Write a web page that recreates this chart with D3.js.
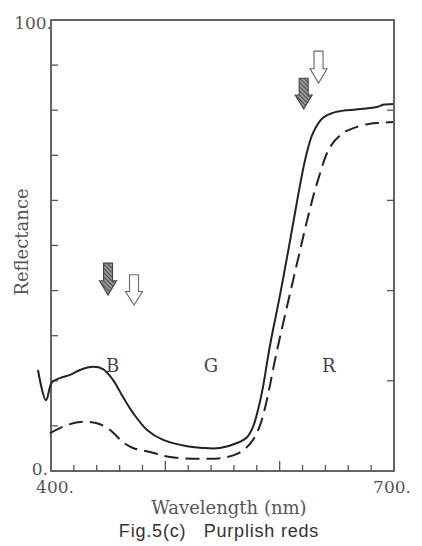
<!DOCTYPE html>
<html><head><meta charset="utf-8">
<script src="https://cdn.jsdelivr.net/npm/d3@7"></script>
<style>body{margin:0;background:#fff}svg{display:block}</style>
</head><body>
<svg id="c" width="422" height="546"></svg>
<script>
// wavelength (nm), reflectance (%)
const solidWl = [388.6,395.6,400.9,407.9,416.6,425.4,436.7,445.5,454.2,463.0,471.7,484.0,498.0,519.0,532.9,547.8,562.7,571.4,576.7,581.0,585.4,589.8,593.3,600.3,607.3,613.4,617.8,623.0,629.1,637.9,646.6,658.9,672.9,685.1,690.4,699.1];
const solidR  = [22.4,15.7,19.7,20.6,21.3,22.4,23.1,22.6,20.2,16.4,12.9,9.1,6.9,5.5,5.1,5.1,6.2,7.5,9.8,13.5,18.6,25.3,30.2,39.0,48.6,57.2,63.4,69.8,74.9,78.3,79.4,80.0,80.3,80.7,81.2,81.4];
const dashWl  = [399.1,414.0,428.0,440.2,451.6,463.0,471.7,486.6,504.1,532.9,550.4,562.7,570.5,576.7,581.9,586.3,590.7,595.0,600.3,608.2,616.9,625.6,633.5,644.0,655.4,667.6,679.0,687.7,699.1];
const dashR   = [8.4,10.2,10.9,10.6,9.1,6.4,5.1,4.2,3.1,2.7,2.9,3.8,5.1,6.9,9.5,13.1,18.0,23.5,29.7,38.4,47.9,57.2,64.5,71.8,74.9,76.3,77.0,77.2,77.4];
const xTicks = [420,440,460,480,500,520,540,560,580,600,620,640,660,680];
const xMajor = [500,600];
const yTicksLeft = [10,20,30,40,50,60,70,80,90];
const yTicksRight = [20,40,60,80];
const bandLabels = ["B","G","R"];
const bandWl = [454,540,643];
const bandR = [21.9,21.9,21.9];
// arrows: centre wavelength, top reflectance, bottom reflectance, type
const arrowWl = [449.9,472.6,634.0,621.0];
const arrowTop = [46.1,43.5,93.1,87.1];
const arrowBot = [39.0,36.8,86.0,80.3];
const arrowType = ["hatched","hollow","hollow","hatched"];

const svg = d3.select("#c");
const x = d3.scaleLinear().domain([400,700]).range([51,394]);
const y = d3.scaleLinear().domain([0,100]).range([471,20]);
const axisCol = "#555";

const defs = svg.append("defs");
const pat = defs.append("pattern").attr("id","hatch").attr("patternUnits","userSpaceOnUse")
  .attr("width",3).attr("height",3).attr("patternTransform","rotate(-45)");
pat.append("rect").attr("width",3).attr("height",3).attr("fill","#999");
pat.append("line").attr("x1",0).attr("y1",0).attr("x2",0).attr("y2",3).attr("stroke","#333").attr("stroke-width",1.6);

// frame
svg.append("rect").attr("x",x(400)).attr("y",y(100)).attr("width",x(700)-x(400)).attr("height",y(0)-y(100))
  .attr("fill","none").attr("stroke",axisCol).attr("stroke-width",1.8);

// ticks
svg.append("g").selectAll("line").data(xTicks).join("line")
  .attr("x1",d=>x(d)).attr("x2",d=>x(d)).attr("y1",y(0)).attr("y2",d=>y(0)-(xMajor.includes(d)?10:6))
  .attr("stroke",axisCol).attr("stroke-width",1.3);
svg.append("g").selectAll("line").data(yTicksLeft).join("line")
  .attr("x1",x(400)).attr("x2",x(400)+7).attr("y1",d=>y(d)).attr("y2",d=>y(d))
  .attr("stroke",axisCol).attr("stroke-width",1.3);
svg.append("g").selectAll("line").data(yTicksRight).join("line")
  .attr("x1",x(700)).attr("x2",x(700)-7).attr("y1",d=>y(d)).attr("y2",d=>y(d))
  .attr("stroke",axisCol).attr("stroke-width",1.3);

// tick labels
const serif = "'DejaVu Serif', 'Liberation Serif', serif";
const tl = svg.append("g").attr("font-family",serif).attr("fill","#555").attr("font-size",17);
tl.append("text").attr("x",x(400)+1).attr("y",y(100)+9).attr("text-anchor","end").text("100.");
tl.append("text").attr("x",x(400)-3).attr("y",y(0)+4).attr("text-anchor","end").text("0.");
tl.append("text").attr("x",x(400)+4).attr("y",y(0)+22).attr("text-anchor","middle").text("400.");
tl.append("text").attr("x",x(700)-2).attr("y",y(0)+22).attr("text-anchor","middle").text("700.");

// axis titles
svg.append("text").attr("x",229).attr("y",514).attr("text-anchor","middle")
  .attr("font-family",serif).attr("font-size",18).attr("fill","#555").text("Wavelength (nm)");
svg.append("text").attr("transform","translate(28,242) rotate(-90)").attr("text-anchor","middle")
  .attr("font-family",serif).attr("font-size",18).attr("fill","#555").text("Reflectance");
svg.append("text").attr("x",219).attr("y",537).attr("text-anchor","middle").attr("xml:space","preserve")
  .attr("font-family","'Liberation Sans', Arial, sans-serif").attr("font-size",18).attr("letter-spacing",0.8)
  .attr("fill","#333").text("Fig.5(c)   Purplish reds");

// band labels
svg.append("g").selectAll("text").data(bandLabels).join("text")
  .attr("x",(d,i)=>x(bandWl[i])).attr("y",(d,i)=>y(bandR[i])).attr("text-anchor","middle")
  .attr("font-family",serif).attr("font-size",18).attr("fill","#444").text(d=>d);

// curves
const line = d3.line().x(d=>x(d[0])).y(d=>y(d[1])).curve(d3.curveCatmullRom.alpha(0.5));
svg.append("path").datum(solidWl.map((w,i)=>[w,solidR[i]])).attr("d",line)
  .attr("fill","none").attr("stroke","#222").attr("stroke-width",2);
svg.append("path").datum(dashWl.map((w,i)=>[w,dashR[i]])).attr("d",line)
  .attr("fill","none").attr("stroke","#222").attr("stroke-width",2).attr("stroke-dasharray","14,7");

// arrows
arrowWl.forEach((w,i)=>{
  const cx = x(w), t = y(arrowTop[i]), b = y(arrowBot[i]);
  const h = b - t, sw = 4.5, hw = 8.5, hh = h*0.45;
  const p = `M${cx-sw},${t}L${cx+sw},${t}L${cx+sw},${b-hh}L${cx+hw},${b-hh}L${cx},${b}L${cx-hw},${b-hh}L${cx-sw},${b-hh}Z`;
  svg.append("path").attr("d",p)
    .attr("fill",arrowType[i]==="hatched"?"url(#hatch)":"#fff")
    .attr("stroke",arrowType[i]==="hatched"?"#444":"#666").attr("stroke-width",1.1).attr("stroke-linejoin","miter");
});
</script>
</body></html>
